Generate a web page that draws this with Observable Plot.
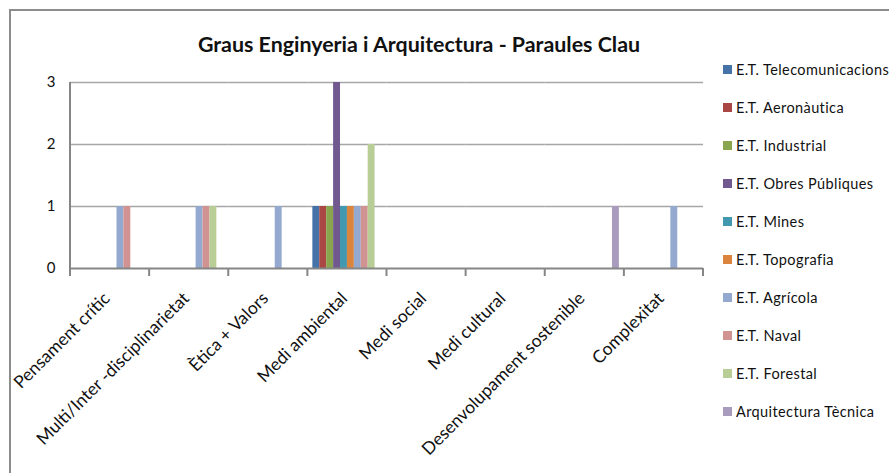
<!DOCTYPE html>
<html><head><meta charset="utf-8">
<script src="https://cdn.jsdelivr.net/npm/d3@7"></script>
<script src="https://cdn.jsdelivr.net/npm/@observablehq/plot@0.6"></script>
<style>
body{margin:0;background:#fff;}
#wrap{position:relative;width:889px;height:473px;overflow:hidden;font-family:Lato,"Open Sans",sans-serif;color:#111;}
#border{position:absolute;left:9px;top:9px;width:950px;height:600px;border:2px solid #8c8c8c;box-sizing:border-box;}
#title{position:absolute;top:31px;left:0;width:838px;text-align:center;font-weight:bold;font-size:21.4px;}
#legend{position:absolute;left:723px;top:61px;}
.item{height:38px;display:flex;align-items:flex-start;font-size:14.5px;white-space:nowrap;letter-spacing:0.4px;}
.sw{width:9px;height:9px;margin-top:4px;margin-right:4px;flex:none;}
#chart{position:absolute;left:0;top:0;}
</style></head>
<body>
<div id="wrap">
  <div id="border"></div>
  <div id="chart"></div>
  <div id="title">Graus Enginyeria i Arquitectura - Paraules Clau</div>
  <div id="legend"></div>
</div>
<script>
const categories = ["Pensament crític","Multi/Inter -disciplinarietat","Ètica + Valors","Medi ambiental","Medi social","Medi cultural","Desenvolupament sostenible","Complexitat"];
const series = ["E.T. Telecomunicacions","E.T. Aeronàutica","E.T. Industrial","E.T. Obres Públiques","E.T. Mines","E.T. Topografia","E.T. Agrícola","E.T. Naval","E.T. Forestal","Arquitectura Tècnica"];
const colors = ["#4572A7","#AA4643","#89A54E","#71588F","#4198AF","#DB843D","#93A9CF","#D19392","#B9CD96","#A99BBD"];
const telecomunicacions = [0,0,0,1,0,0,0,0];
const aeronautica       = [0,0,0,1,0,0,0,0];
const industrial        = [0,0,0,1,0,0,0,0];
const obresPubliques    = [0,0,0,3,0,0,0,0];
const mines             = [0,0,0,1,0,0,0,0];
const topografia        = [0,0,0,1,0,0,0,0];
const agricola          = [1,1,1,1,0,0,0,1];
const naval             = [1,1,0,1,0,0,0,0];
const forestal          = [0,1,0,2,0,0,0,0];
const arquitectura      = [0,0,0,0,0,0,1,0];
const yTicks = [0,1,2,3];

const seriesValues = [telecomunicacions,aeronautica,industrial,obresPubliques,mines,topografia,agricola,naval,forestal,arquitectura];
const data = [];
series.forEach((s,i)=>categories.forEach((c,j)=>data.push({cat:c, series:s, value:seriesValues[i][j]})));

const plot = Plot.plot({
  width: 889, height: 473,
  marginLeft: 70, marginRight: 186, marginTop: 82, marginBottom: 205,
  style: {fontFamily: "Lato, 'Open Sans', sans-serif", color: "#111", background: "transparent"},
  fx: {domain: categories, padding: 0, round: false, label: null},
  x: {domain: series, paddingInner: 0, paddingOuter: 0.72, round: false, axis: null},
  y: {domain: [0,3], axis: null},
  color: {domain: series, range: colors},
  marks: [
    Plot.ruleY([1,2,3], {stroke: "#a6a6a6", strokeWidth: 1.5}),
    Plot.barY(data, {fx: "cat", x: "series", y: "value", fill: "series"}),
    Plot.ruleY([0], {stroke: "#868686", strokeWidth: 2}),
    Plot.axisY(yTicks, {tickSize: 0, tickPadding: 15, fontSize: 15, label: null, tickFormat: d=>String(d)}),
    Plot.axisFx({anchor: "bottom", tickRotate: -45, tickSize: 0, tickPadding: 27, fontSize: 17.5, dx: -3, label: null})
  ]
});
document.getElementById("chart").appendChild(plot);

// Excel-like value-axis line and category boundary tick marks, placed from the plot's own scales
const fxs = plot.scale("fx"), ys = plot.scale("y");
const band = d3.scaleBand(fxs.domain, fxs.range).paddingInner(fxs.paddingInner||0).paddingOuter(fxs.paddingOuter||0).align(fxs.align ?? 0.5);
const yScale = d3.scaleLinear(ys.domain, ys.range);
const g = d3.select(plot).append("g").attr("stroke", "#868686").attr("stroke-width", 2);
const x0 = band(categories[0]);
g.append("line").attr("x1", x0).attr("x2", x0).attr("y1", yScale(3)).attr("y2", yScale(0) + 8);
categories.forEach(c=>{
  const xb = band(c) + band.bandwidth();
  g.append("line").attr("x1", xb).attr("x2", xb).attr("y1", yScale(0)).attr("y2", yScale(0) + 8);
});

const legend = d3.select("#legend");
series.forEach((s,i)=>{
  const it = legend.append("div").attr("class","item");
  it.append("div").attr("class","sw").style("background", colors[i]);
  it.append("span").text(s);
});
</script>
</body></html>
